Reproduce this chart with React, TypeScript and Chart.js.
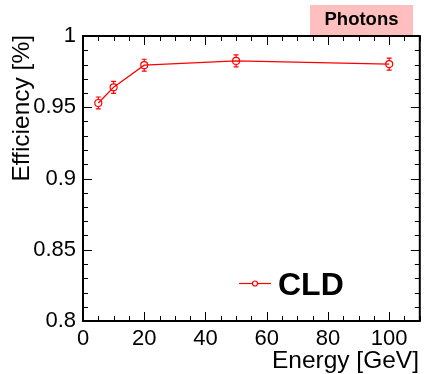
import React, { useEffect, useRef } from "react";
import { Chart, registerables } from "chart.js";

Chart.register(...registerables);

const energies = [5, 10, 20, 50, 100];
const efficiency = [0.953, 0.964, 0.9795, 0.9825, 0.9803];
const errors = [0.0042, 0.0042, 0.0042, 0.0042, 0.0042];
const xTickLabels = [0, 20, 40, 60, 80, 100];
const yTickLabels = [0.8, 0.85, 0.9, 0.95, 1];

const FONT = "'Liberation Sans', Arial, sans-serif";
const RED = "#ff0000";

const rootPlugin = {
  id: "rootStyle",
  afterDatasetsDraw(chart: any) {
    const ctx = chart.ctx;
    const { left, right, top, bottom } = chart.chartArea;
    const xs = chart.scales.x;
    const ys = chart.scales.y;
    ctx.save();
    // error bars
    ctx.strokeStyle = RED;
    ctx.lineWidth = 1.2;
    energies.forEach((e, i) => {
      const px = xs.getPixelForValue(e);
      const y1 = ys.getPixelForValue(efficiency[i] + errors[i]);
      const y2 = ys.getPixelForValue(efficiency[i] - errors[i]);
      const yc = ys.getPixelForValue(efficiency[i]);
      ctx.beginPath();
      ctx.moveTo(px, y1);
      ctx.lineTo(px, yc - 3.5);
      ctx.moveTo(px, yc + 3.5);
      ctx.lineTo(px, y2);
      ctx.moveTo(px - 2.5, y1);
      ctx.lineTo(px + 2.5, y1);
      ctx.moveTo(px - 2.5, y2);
      ctx.lineTo(px + 2.5, y2);
      ctx.stroke();
    });
    // frame
    ctx.strokeStyle = "#000";
    ctx.lineWidth = 2;
    ctx.strokeRect(left, top, right - left, bottom - top);
    // x ticks (inside, top and bottom)
    ctx.lineWidth = 1;
    for (let v = 0; v <= 110; v += 5) {
      const px = Math.round(xs.getPixelForValue(v)) + 0.5;
      const len = v % 20 === 0 ? 9 : 5;
      ctx.beginPath();
      ctx.moveTo(px, bottom);
      ctx.lineTo(px, bottom - len);
      ctx.moveTo(px, top);
      ctx.lineTo(px, top + len);
      ctx.stroke();
    }
    // y ticks
    for (let k = 0; k <= 20; k++) {
      const v = 0.8 + k * 0.01;
      const py = Math.round(ys.getPixelForValue(v)) + 0.5;
      const len = k % 5 === 0 ? 9 : 5;
      ctx.beginPath();
      ctx.moveTo(left, py);
      ctx.lineTo(left + len, py);
      ctx.moveTo(right, py);
      ctx.lineTo(right - len, py);
      ctx.stroke();
    }
    // axis titles
    ctx.fillStyle = "#000";
    ctx.font = `24.5px ${FONT}`;
    ctx.textBaseline = "alphabetic";
    ctx.textAlign = "right";
    ctx.fillText("Energy [GeV]", 419, 368);
    ctx.save();
    ctx.translate(29, 35);
    ctx.rotate(-Math.PI / 2);
    ctx.textAlign = "right";
    ctx.fillText("Efficiency [%]", 0, 0);
    ctx.restore();
    // legend
    ctx.strokeStyle = RED;
    ctx.lineWidth = 1.2;
    ctx.beginPath();
    ctx.moveTo(239, 283.5);
    ctx.lineTo(271, 283.5);
    ctx.stroke();
    ctx.fillStyle = "#fff";
    ctx.beginPath();
    ctx.arc(255, 283.5, 2.5, 0, Math.PI * 2);
    ctx.fill();
    ctx.stroke();
    ctx.fillStyle = "#000";
    ctx.font = `bold 32px ${FONT}`;
    ctx.textBaseline = "alphabetic";
    ctx.textAlign = "left";
    ctx.fillText("CLD", 278, 295);
    // Photons box
    ctx.fillStyle = "#ffbfbf";
    ctx.fillRect(310, 5, 103, 30);
    ctx.fillStyle = "#000";
    ctx.font = `bold 18.5px ${FONT}`;
    ctx.textAlign = "center";
    ctx.textBaseline = "middle";
    ctx.fillText("Photons", 361.5, 20);
    ctx.restore();
  },
};

export default function App() {
  const ref = useRef<HTMLCanvasElement | null>(null);
  useEffect(() => {
    document.body.style.margin = "0";
    const chart = new Chart(ref.current as HTMLCanvasElement, {
      type: "line",
      data: {
        datasets: [
          {
            data: energies.map((e, i) => ({ x: e, y: efficiency[i] })),
            borderColor: RED,
            borderWidth: 1.2,
            pointRadius: 3.5,
            pointBorderWidth: 1.2,
            pointBackgroundColor: "rgba(255,255,255,0)",
            pointBorderColor: RED,
            tension: 0,
          },
        ],
      },
      options: {
        animation: false,
        responsive: false,
        layout: { padding: { top: 36, right: 4, left: 0, bottom: 0 } },
        plugins: { legend: { display: false }, tooltip: { enabled: false } },
        scales: {
          x: {
            type: "linear",
            min: 0,
            max: 110,
            grid: { display: false, drawTicks: false, tickLength: 0 },
            border: { display: false },
            afterBuildTicks: (s: any) => {
              s.ticks = xTickLabels.map((v) => ({ value: v }));
            },
            afterFit: (s: any) => {
              s.height = 53;
            },
            ticks: {
              color: "#000",
              font: { family: FONT, size: 22 },
              padding: 5,
              maxRotation: 0,
              callback: (v: any) => String(v),
            },
          },
          y: {
            type: "linear",
            min: 0.8,
            max: 1,
            grid: { display: false, drawTicks: false, tickLength: 0 },
            border: { display: false },
            afterBuildTicks: (s: any) => {
              s.ticks = yTickLabels.map((v) => ({ value: v }));
            },
            afterFit: (s: any) => {
              s.width = 83;
            },
            ticks: {
              color: "#000",
              font: { family: FONT, size: 22 },
              padding: 7,
              callback: (v: any) => String(Math.round(v * 100) / 100),
            },
          },
        },
      },
      plugins: [rootPlugin],
    } as any);
    return () => chart.destroy();
  }, []);
  return (
    <div style={{ position: "absolute", left: 0, top: 0, width: 425, height: 374, background: "#fff" }}>
      <canvas ref={ref} width={425} height={374} />
    </div>
  );
}
